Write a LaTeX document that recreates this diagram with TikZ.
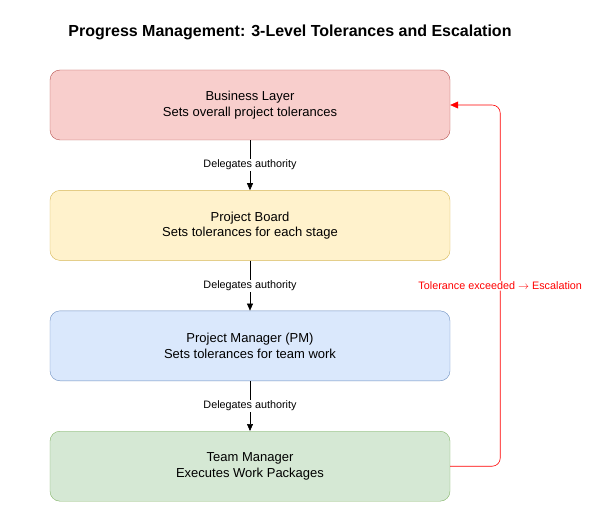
\documentclass[tikz,border=0pt]{standalone}
\usepackage{fontspec}
\setmainfont{Liberation Sans}
\usetikzlibrary{arrows.meta,positioning}
\definecolor{bizfill}{HTML}{F8CECC}
\definecolor{bizline}{HTML}{B85450}
\definecolor{boardfill}{HTML}{FFF2CC}
\definecolor{boardline}{HTML}{D6B656}
\definecolor{pmfill}{HTML}{DAE8FC}
\definecolor{pmline}{HTML}{6C8EBF}
\definecolor{teamfill}{HTML}{D5E8D4}
\definecolor{teamline}{HTML}{82B366}
\definecolor{escal}{HTML}{FF0000}

\begin{document}
\begin{tikzpicture}[x=1pt, y=1pt, font=\fontsize{13}{15.5}\selectfont,
  level/.style={draw, rounded corners=10pt, minimum width=400pt, minimum height=70pt, align=center},
  deleg/.style={-{Triangle[length=7pt,width=6pt]}, semithick},
  lbl/.style={fill=white, font=\fontsize{10.8}{13}\selectfont, inner sep=1pt}]
  \useasboundingbox (0,0) rectangle (596,-513);
  \node[font=\bfseries\fontsize{16}{19}\selectfont] (T) at (290,-32) {Progress Management: 3-Level Tolerances and Escalation};
  \node[level, fill=bizfill, draw=bizline] (L1) at (250,-105) {Business Layer\\Sets overall project tolerances};
  \node[level, fill=boardfill, draw=boardline, below=50pt of L1] (L2) {Project Board\\Sets tolerances for each stage};
  \node[level, fill=pmfill, draw=pmline, below=50pt of L2] (L3) {Project Manager (PM)\\Sets tolerances for team work};
  \node[level, fill=teamfill, draw=teamline, below=50pt of L3] (L4) {Team Manager\\Executes Work Packages};
  \draw[deleg] (L1) -- node[lbl] {Delegates authority} (L2);
  \draw[deleg] (L2) -- node[lbl] {Delegates authority} (L3);
  \draw[deleg] (L3) -- node[lbl] {Delegates authority} (L4);
  % escalation back to the top
  \draw[escal, semithick, rounded corners=8pt, -{Triangle[length=8pt,width=7pt]}]
    (L4.east) -- ++(50,0) |- node[pos=0.25, lbl, text=escal] {Tolerance exceeded $\rightarrow$ Escalation} (L1.east);
\end{tikzpicture}
\end{document}
